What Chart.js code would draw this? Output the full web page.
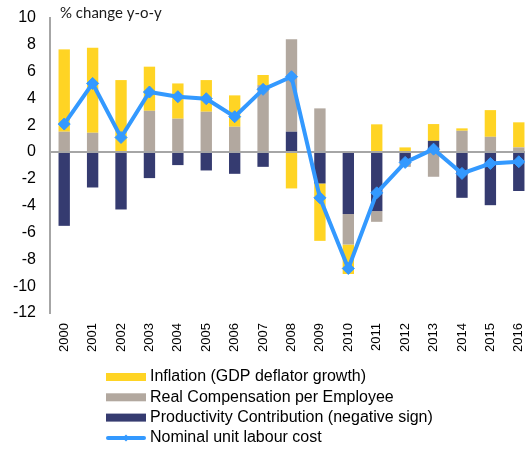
<!DOCTYPE html>
<html>
<head>
<meta charset="utf-8">
<script src="https://cdn.jsdelivr.net/npm/chart.js@4"></script>
<style>
    html, body { margin: 0; padding: 0; background: #fff; overflow: hidden; }
    #wrap { width: 540px; height: 450px; }
</style>
</head>
<body>
<div id="wrap"><canvas id="ulc" width="540" height="450"></canvas></div>
<script>
// Unit labour cost decomposition, % change y-o-y
const years = ['2000', '2001', '2002', '2003', '2004', '2005', '2006', '2007', '2008',
    '2009', '2010', '2011', '2012', '2013', '2014', '2015', '2016'];
const inflation = [6.14, 6.34, 5.37, 3.29, 2.63, 2.36, 2.34, 0.75, -2.71,
    -4.28, -2.2, 2.07, 0.35, 1.25, 0.18, 1.99, 1.87];
const realCompensation = [1.52, 1.44, 0, 3.08, 2.49, 3.01, 1.89, 5.0, 6.89,
    3.26, -2.27, -0.8, -0.38, -1.84, 1.59, 1.14, 0.35];
const productivity = [-5.5, -2.64, -4.28, -1.94, -0.97, -1.37, -1.62, -1.1, 1.52,
    -2.34, -4.62, -4.4, -0.72, 0.84, -3.41, -3.96, -2.9];
const nominalUlc = [2.09, 5.12, 1.09, 4.48, 4.13, 3.98, 2.64, 4.68, 5.62,
    -3.41, -8.68, -3.04, -0.77, 0.22, -1.59, -0.85, -0.72];
const yTicks = [-12, -10, -8, -6, -4, -2, 0, 2, 4, 6, 8, 10];

const YELLOW = '#FFD424';
const GREY = '#B2A89F';
const NAVY = '#353B70';
const BLUE = '#3399FF';
const AXIS_GREY = '#A6A6A6';

// zero line sits above the bars but under the line series
const zeroLine = {
    id: 'zeroLine',
    beforeDatasetDraw(chart, args) {
        if (args.meta.type !== 'line') return;
        const ctx = chart.ctx;
        const y = chart.scales.y.getPixelForValue(0);
        ctx.save();
        ctx.strokeStyle = AXIS_GREY;
        ctx.lineWidth = 2;
        ctx.beginPath();
        ctx.moveTo(chart.chartArea.left, y);
        ctx.lineTo(chart.chartArea.right, y);
        ctx.stroke();
        ctx.restore();
    }
};

// unit label at top plus a stacked legend under the year labels
const extras = {
    id: 'extras',
    afterDraw(chart) {
        const ctx = chart.ctx;
        ctx.save();
        ctx.fillStyle = '#1a1a1a';
        ctx.font = '15px Lato';
        ctx.textBaseline = 'alphabetic';
        ctx.fillText('% change y-o-y', 60, 18);

        const order = [3, 2, 1, 0];
        const x0 = 106, swW = 40, textX = 150;
        let y = 377;
        ctx.font = '16px "Liberation Sans"';
        ctx.textBaseline = 'middle';
        order.forEach(i => {
            const ds = chart.data.datasets[i];
            if (ds.type === 'line') {
                ctx.strokeStyle = ds.borderColor;
                ctx.lineWidth = 4;
                ctx.lineCap = 'round';
                ctx.beginPath();
                ctx.moveTo(x0 + 2, y);
                ctx.lineTo(x0 + swW - 2, y);
                ctx.stroke();
                ctx.fillStyle = ds.borderColor;
                ctx.beginPath();
                ctx.moveTo(x0 + swW / 2, y - 3.5);
                ctx.lineTo(x0 + swW / 2 + 3.5, y);
                ctx.lineTo(x0 + swW / 2, y + 3.5);
                ctx.lineTo(x0 + swW / 2 - 3.5, y);
                ctx.closePath();
                ctx.fill();
            } else {
                ctx.fillStyle = ds.backgroundColor;
                ctx.fillRect(x0, y - 4, swW, 8);
            }
            ctx.fillStyle = '#000';
            ctx.fillText(ds.label, textX, y);
            y += 20.3;
        });
        ctx.restore();
    }
};

new Chart(document.getElementById('ulc'), {
    type: 'bar',
    data: {
        labels: years,
        datasets: [
            {
                type: 'line',
                label: 'Nominal unit labour cost',
                data: nominalUlc,
                stack: 'line',
                order: 0,
                borderColor: BLUE,
                backgroundColor: BLUE,
                borderWidth: 4,
                tension: 0,
                pointStyle: 'rectRot',
                pointRadius: 6,
                pointBorderWidth: 1,
                pointBackgroundColor: BLUE,
                pointBorderColor: BLUE
            },
            {
                label: 'Productivity Contribution (negative sign)',
                data: productivity,
                stack: 'bars',
                order: 1,
                backgroundColor: NAVY
            },
            {
                label: 'Real Compensation per Employee',
                data: realCompensation,
                stack: 'bars',
                order: 1,
                backgroundColor: GREY
            },
            {
                label: 'Inflation (GDP deflator growth)',
                data: inflation,
                stack: 'bars',
                order: 1,
                backgroundColor: YELLOW
            }
        ]
    },
    options: {
        responsive: false,
        animation: false,
        layout: {
            padding: { top: 18, right: 7, left: 0, bottom: 0 }
        },
        datasets: {
            bar: {
                barPercentage: 0.4,
                categoryPercentage: 1
            }
        },
        scales: {
            x: {
                stacked: true,
                grid: { display: false, drawTicks: false },
                border: { display: false },
                ticks: {
                    autoSkip: false,
                    minRotation: 90,
                    maxRotation: 90,
                    padding: 10,
                    color: '#000',
                    font: { family: 'Liberation Sans', size: 13 }
                },
                afterFit(scale) {
                    scale.height = 137;
                    scale.paddingLeft = 0;
                    scale.paddingRight = 0;
                }
            },
            y: {
                stacked: true,
                min: yTicks[0],
                max: yTicks[yTicks.length - 1],
                grid: { display: false, drawTicks: false },
                border: { display: true, color: AXIS_GREY, width: 2 },
                afterBuildTicks(scale) {
                    scale.ticks = yTicks.map(v => ({ value: v }));
                },
                ticks: {
                    padding: 14,
                    color: '#000',
                    font: { family: 'Liberation Sans', size: 16 }
                },
                afterFit(scale) {
                    scale.width = 50;
                    scale.paddingTop = 0;
                    scale.paddingBottom = 0;
                }
            }
        },
        plugins: {
            legend: { display: false },
            tooltip: { enabled: false }
        }
    },
    plugins: [zeroLine, extras]
});
</script>
</body>
</html>
